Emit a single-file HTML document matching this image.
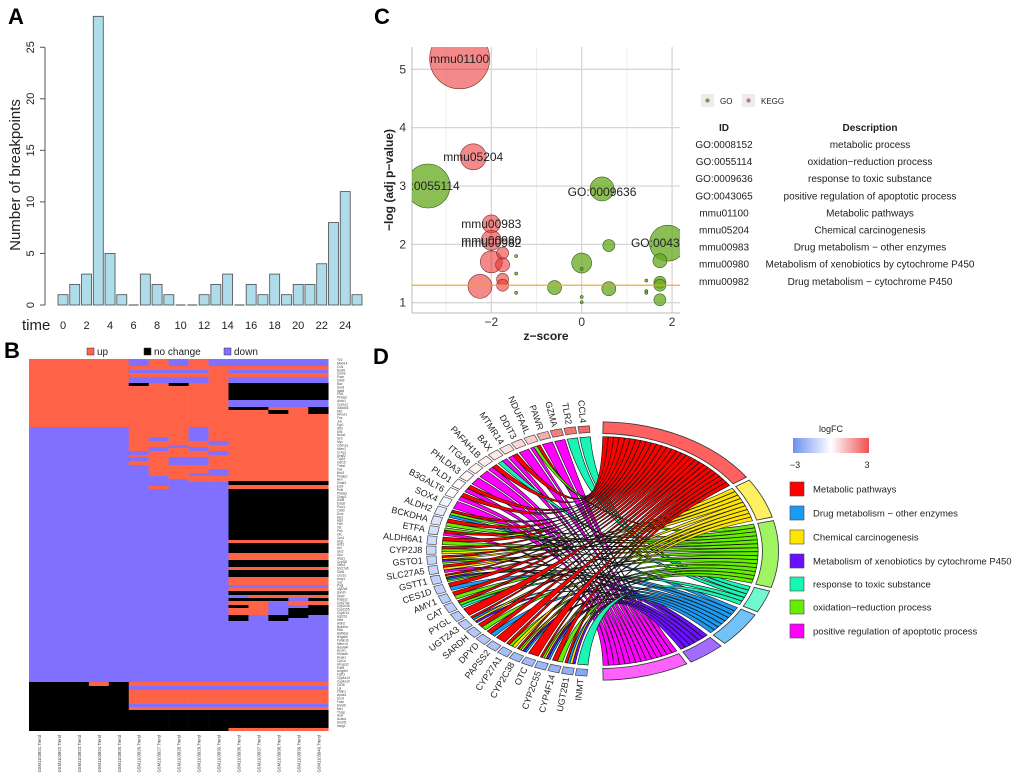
<!DOCTYPE html>
<html><head><meta charset="utf-8"><style>
html,body{margin:0;padding:0;background:#fff;}
svg{display:block;font-family:"Liberation Sans",Arial,sans-serif;}
</style></head><body>
<svg id="fig" width="1020" height="784" viewBox="0 0 1020 784" xmlns="http://www.w3.org/2000/svg">
<text x="8" y="24" font-size="22" font-weight="bold">A</text>
<text x="4" y="358" font-size="22" font-weight="bold">B</text>
<text x="374" y="24" font-size="22" font-weight="bold">C</text>
<text x="373" y="364" font-size="22" font-weight="bold">D</text>
<g id="pa"></g>
<g id="pb"></g>
<g id="pc"></g>
<g id="pd"></g>
</svg>
<script>
// ---------- Panel A data ----------
const timeCats = [0,1,2,3,4,5,6,7,8,9,10,11,12,13,14,15,16,17,18,19,20,21,22,23,24,25];
const breakpoints = [1,2,3,28,5,1,0,3,2,1,0,0,1,2,3,0,2,1,3,1,2,2,4,8,11,1];
const aTicks = [0,5,10,15,20,25];
const aXLabels = [0,2,4,6,8,10,12,14,16,18,20,22,24];

// ---------- Panel B data (runs of state up to row-offset) ----------
const hmSamples = ["GSM1103921.Trend","GSM1103922.Trend","GSM1103923.Trend","GSM1103924.Trend","GSM1103925.Trend","GSM1103926.Trend","GSM1103927.Trend","GSM1103928.Trend","GSM1103929.Trend","GSM1103930.Trend","GSM1103936.Trend","GSM1103937.Trend","GSM1103938.Trend","GSM1103939.Trend","GSM1103940.Trend"];
const bot5 = [["U",327],["D",331],["U",345],["D",348],["U",351],["B",372]];
const bot10 = [["U",327],["D",331],["U",345],["D",348],["U",351],["B",369],["U",372]];
const rMid = [["B",41],["D",48]];
const rLow = [["U",122],["B",126],["U",130],["B",181],["U",184],["B",194],["U",201],["B",208],["U",211],["B",218],["U",226],["D",229],["U",232],["B",236]];
const hmCols = [
 [["U",68],["D",323],["B",372]],
 [["U",68],["D",323],["B",372]],
 [["U",68],["D",323],["B",372]],
 [["U",68],["D",323],["U",327],["B",372]],
 [["U",68],["D",323],["B",372]],
 [["D",7],["U",11],["D",14],["U",18],["D",24],["B",27],["U",92],["D",96],["U",98],["D",102],["U",106],["D",323]].concat(bot5),
 [["U",11],["D",14],["U",18],["D",24],["U",78],["D",82],["U",88],["D",92],["U",117],["D",127],["U",130],["D",323]].concat(bot5),
 [["D",7],["U",11],["D",14],["U",18],["D",24],["B",27],["U",86],["D",89],["U",98],["D",106],["U",120],["D",323]].concat(bot5),
 [["U",11],["D",14],["U",18],["D",24],["U",68],["D",82],["U",88],["D",92],["U",98],["D",106],["U",114],["D",117],["U",123],["D",323]].concat(bot5),
 [["D",7],["U",82],["D",86],["U",92],["D",96],["U",110],["D",117],["U",123],["D",323]].concat(bot5),
 [["D",7],["U",11],["D",14],["U",18],["D",24]].concat(rMid,[["B",51],["U",55]],rLow,[["D",239],["B",242],["U",246],["B",249],["U",256],["B",262],["D",323]],bot10),
 [["D",7],["U",11],["D",14],["U",18],["D",24]].concat(rMid,[["B",51],["U",55]],rLow,[["U",239],["B",242],["U",256],["D",323]],bot10),
 [["D",7],["U",11],["D",14],["U",18],["D",24]].concat(rMid,[["U",51],["B",55]],rLow,[["U",239],["B",242],["D",256],["B",262],["D",323]],bot10),
 [["D",7],["U",11],["D",14],["U",18],["D",24]].concat(rMid,[["U",55]],rLow,[["U",239],["D",242],["U",246],["D",249],["B",259],["D",323]],bot10),
 [["D",7],["U",11],["D",14],["U",18],["D",24]].concat(rMid,[["B",55]],rLow,[["U",239],["B",242],["U",246],["B",256],["D",323]],bot10)
];
const hmGenes = ["Tlr2","Mbnl14","Ccl4","Nsdhl","Gzma","Pawr","Ddit3","Bax","Sox4","Itga8","Pld1","Phlda3","Abcb1","Cyp1a1","Gadd45","Mt2","Hmox1","Fos","Jun","Egr1","Atf3","Klf4","Nr4a1","Ier3","Myc","Cdkn1a","Mdm2","Ccng1","Sesn2","Trp53","Gdf15","Tnfrsf","Fas","Bbc3","Pmaip1","Aen","Zmat3","Ei24","Polk","Phlda3","Ckap2","Ddit4","Eda2r","Psrc1","Cd80","Dcxr","Hpd","Hgd","Fah","Tat","Pah","Otc","Cps1","Arg1","Ass1","Asl","Gls2","Glul","Alas1","Cyp2j8","Gsto1","Slc27a5","Gstt1","Ces1d","Amy1","Cat","Pygl","Ugt2a3","Sardh","Dpyd","Papss2","Cyp27a1","Cyp2c38","Cyp2c55","Cyp4f14","Ugt2b1","Inmt","Aldh2","Bckdha","Etfa","Aldh6a1","B3galt6","Pafah1b","Mtmr14","Ndufa4l","Acox1","Ehhadh","Acaa1","Cpt1a","Hmgcs2","Pdk4","Angptl4","Fgf21","Cyp4a14","Cyp4a10","Cd36","Lpl","Fabp1","Apoa4","Scd1","Fasn","Elovl6","Me1","Thrsp","Acly","Acaca","Srebf1","Insig1"];

// ---------- Panel C data ----------
const bubbleIds = ["mmu01100","mmu05204","GO:0055114","GO:0009636","GO:0043065","mmu00983","mmu00980","mmu00982","k1","k2","k3","k4","k5","g1","g2","g3","g4","g5","g6","g7","g8","d1","d2","d3","d4","d5","d6","d7","d8","d9"];
const bubbleZ = [-2.7,-2.4,-3.4,0.45,1.9,-2,-2,-2,-1.75,-1.75,-1.75,-1.75,-2.25,0.6,0,-0.6,0.6,1.73,1.73,1.73,1.73,-1.45,-1.45,-1.45,0,0,0,1.43,1.43,1.43];
const bubbleP = [5.18,3.5,3.0,2.95,2.02,2.35,2.07,1.7,1.85,1.65,1.4,1.3,1.28,1.98,1.68,1.26,1.24,1.72,1.35,1.3,1.05,1.8,1.5,1.17,1.58,1.1,1.01,1.38,1.2,1.17];
const bubbleSize = [30,13,22,12,18,9,10,11,6,7,6,6,12,6,10,7,7,7,6,6,6,1.5,1.5,1.5,1.5,1.5,1.5,1.5,1.5,1.5];
const bubbleType = ["K","K","G","G","G","K","K","K","K","K","K","K","K","G","G","G","G","G","G","G","G","G","G","G","G","G","G","G","G","G"];
const bubbleLabels = [["mmu01100",-2.7,5.18],["mmu05204",-2.4,3.5],["GO:0055114",-3.45,3.0],["GO:0009636",0.45,2.9],["GO:0043065",1.85,2.02],["mmu00983",-2,2.35],["mmu00980",-2,2.07],["mmu00982",-2,2.02]];
const cXTicks = [-2,0,2];
const cYTicks = [1,2,3,4,5];
const termIds = ["GO:0008152","GO:0055114","GO:0009636","GO:0043065","mmu01100","mmu05204","mmu00983","mmu00980","mmu00982"];
const termDesc = ["metabolic process","oxidation\u2212reduction process","response to toxic substance","positive regulation of apoptotic process","Metabolic pathways","Chemical carcinogenesis","Drug metabolism \u2212 other enzymes","Metabolism of xenobiotics by cytochrome P450","Drug metabolism \u2212 cytochrome P450"];

// ---------- Panel D data ----------
const chordGenes = ["CCL4","TLR2","GZMA","PAWR","NDUFA4L","DDIT3","MTMR14","BAX","PAFAH1B","ITGA8","PHLDA3","PLD1","B3GALT6","SOX4","ALDH2","BCKDHA","ETFA","ALDH6A1","CYP2J8","GSTO1","SLC27A5","GSTT1","CES1D","AMY1","CAT","PYGL","UGT2A3","SARDH","DPYD","PAPSS2","CYP27A1","CYP2C38","OTC","CYP2C55","CYP4F14","UGT2B1","INMT"];
const geneLogFC = [2.6,2.4,2.2,1.4,0.9,0.7,0.5,0.4,0.3,0.2,0.15,0.1,0,-0.2,-0.5,-0.7,-0.8,-0.9,-1,-1.1,-1.1,-1.2,-1.2,-1.3,-1.3,-1.4,-1.4,-1.5,-1.5,-1.6,-1.7,-1.8,-1.8,-1.9,-2,-2.1,-2.3];
// category order around arc (clockwise from top): 0 Metabolic,1 Chem carcinogenesis,2 oxidation-reduction,3 toxic,4 Drug other,5 xenobiotics,6 apoptotic
const geneTerms = [[3],[3],[6],[6],[0,2,6],[6],[0,6],[6,3],[0,6],[6],[6],[0,6],[0,6],[6],[0,2,4],[0,2],[2,0,6],[0,2],[0,2,1],[0,1,5,2],[0,1,6],[0,1,5,4,2],[0,4],[0,2],[0,2,3],[0],[0,4,1,5],[0,2],[0,4],[0],[0,2,1],[0,2,1,5,4],[0],[0,2,1,5,4],[0,2],[0,4,1,5],[3]];
const termNames = ["Metabolic pathways","Chemical carcinogenesis","oxidation\u2212reduction process","response to toxic substance","Drug metabolism \u2212 other enzymes","Metabolism of xenobiotics by cytochrome P450","positive regulation of apoptotic process"];
const termColors = ["#ff0000","#ffe600","#66ee00","#19f5b4","#1a9cf5","#6a10ff","#ff00ff"];
const legendOrder = [0,4,1,5,3,2,6];

const NS="http://www.w3.org/2000/svg";
function mk(parent, tag, attrs, text){const e=document.createElementNS(NS,tag);for(const k in attrs)e.setAttribute(k,attrs[k]);if(text!==undefined)e.textContent=text;parent.appendChild(e);return e;}

// ===== Panel A =====
(function(){
 const g=document.getElementById('pa');
 const x0=58, step=11.76, bw=10;
 const ay=v=>305-v*10.31;
 const ax=i=>x0+i*step;
 const axis=mk(g,'line',{x1:45,y1:ay(0),x2:45,y2:ay(25),stroke:'#555','stroke-width':1});
 
 
 aTicks.forEach(t=>{
  const tk=mk(g,'line',{x1:40,y1:ay(t),x2:45,y2:ay(t),stroke:'#555'});
  
  
  const lb=mk(g,'text',{x:34,y:ay(t),'font-size':11,fill:'#222','text-anchor':'middle',transform:`rotate(-90 34 ${ay(t)})`},String(t));
  
  
 });
 const yt=mk(g,'text',{x:20,y:175,'font-size':15,fill:'#222','text-anchor':'middle',transform:'rotate(-90 20 175)'},'Number of breakpoints');
 
 
 breakpoints.forEach((v,i)=>{
  if(v<=0){const z=mk(g,'line',{x1:ax(i),x2:ax(i)+bw,y1:ay(0),y2:ay(0),stroke:'#444'});return;}
  const r=mk(g,'rect',{x:ax(i),y:ay(v),width:bw,height:ay(0)-ay(v),fill:'#aedcea',stroke:'#4a4a4a','stroke-width':0.8});
  
  
 });
 const tl=mk(g,'text',{x:22,y:330,'font-size':15,fill:'#222'},'time');
 
 
 aXLabels.forEach(t=>{
  const i=timeCats.indexOf(t);
  const lb=mk(g,'text',{x:ax(i)+bw/2,y:329,'font-size':11,fill:'#222','text-anchor':'middle'},String(t));
  
  
 });
})();

// ===== Panel B =====
(function(){
 const g=document.getElementById('pb');
 const left=29, top=359, cw=19.95;
 const col={U:'#ff6347',D:'#8070ff',B:'#000000'};
 hmCols.forEach((runs,c)=>{
  let s=0;
  runs.forEach(([st,e])=>{
   const r=mk(g,'rect',{x:left+c*cw,y:top+s,width:cw+0.3,height:e-s,fill:col[st]});
   
   
   s=e;
  });
  const lx=left+c*cw+cw/2+2, ly=735;
  const t=mk(g,'text',{x:lx,y:ly,'font-size':4.2,fill:'#333','text-anchor':'end',transform:`rotate(-90 ${lx} ${ly})`},hmSamples[c]);
  
  
 });
 hmGenes.forEach((n,i)=>{
  const t=mk(g,'text',{x:337,y:top+2+i*3.42,'font-size':3.2,fill:'#444'},n);
  
  
 });
 const leg=[['U','up',87],['B','no change',144],['D','down',224]];
 leg.forEach(([k,l,x])=>{
  const b=mk(g,'rect',{x:x,y:348,width:7,height:7,fill:col[k],stroke:'#333','stroke-width':0.5});
  
  
  const t=mk(g,'text',{x:x+10,y:355,'font-size':10,fill:'#222'},l);
  
  
 });
})();

// ===== Panel C =====
(function(){
 const g=document.getElementById('pc');
 const cx=z=>581.7+z*45.2, cy=v=>302.7-(v-1)*58.35;
 const L=412,R=680,T=47,B=313;
 [-3,-1,1].forEach(z=>{const l=mk(g,'line',{x1:cx(z),x2:cx(z),y1:T,y2:B,stroke:'#ececec'});});
 cXTicks.forEach(z=>{const l=mk(g,'line',{x1:cx(z),x2:cx(z),y1:T,y2:B,stroke:'#d6d6d6','stroke-width':1.3});
  const t=mk(g,'text',{x:cx(z),y:326,'font-size':12,fill:'#333','text-anchor':'middle'},z<0?'\u2212'+(-z):String(z));});
 cYTicks.forEach(v=>{const l=mk(g,'line',{x1:L,x2:R,y1:cy(v),y2:cy(v),stroke:'#d6d6d6','stroke-width':1.3});
  const t=mk(g,'text',{x:406,y:cy(v)+4,'font-size':12,fill:'#333','text-anchor':'end'},String(v));});
 const ax1=mk(g,'polyline',{points:`${L},${T} ${L},${B} ${R},${B}`,fill:'none',stroke:'#bbb'});
 
 
 const cp=mk(g,'clipPath',{id:'cclip'});mk(cp,'rect',{x:L,y:T,width:R-L,height:B-T});
 const pg=mk(g,'g',{'clip-path':'url(#cclip)'});
 bubbleIds.forEach((id,i)=>{
  const c=mk(pg,'circle',{cx:cx(bubbleZ[i]),cy:cy(bubbleP[i]),r:bubbleSize[i],fill:bubbleType[i]==='K'?'rgba(235,40,40,0.55)':'rgba(100,170,30,0.75)',stroke:bubbleType[i]==='K'?'#7a3030':'#3a5a20','stroke-width':0.6});
  
  
 });
 const th=mk(pg,'line',{x1:L,x2:R,y1:cy(1.3),y2:cy(1.3),stroke:'#f5a020','stroke-width':1.2});
 
 
 bubbleLabels.forEach(([s,z,v])=>{
  const t=mk(pg,'text',{x:cx(z),y:cy(v)+4,'font-size':12,fill:'#222','text-anchor':'middle'},s);
  
  
 });
 const xt=mk(g,'text',{x:546,y:340,'font-size':12,'font-weight':'bold',fill:'#222','text-anchor':'middle'},'z\u2212score');
 
 const yt=mk(g,'text',{x:393,y:180,'font-size':12,'font-weight':'bold',fill:'#222','text-anchor':'middle',transform:'rotate(-90 393 180)'},'\u2212log (adj p\u2212value)');
 
 [['GO','rgba(100,170,30,0.9)',701],['KEGG','rgba(235,60,60,0.7)',742]].forEach(([n,c,x])=>{
  const b=mk(g,'rect',{x:x,y:94,width:13,height:13,fill:'#ececec'});
  mk(g,'circle',{cx:x+6.5,cy:100.5,r:1.8,fill:c,stroke:'#555','stroke-width':0.4});
  const t=mk(g,'text',{x:x+19,y:104,'font-size':8,fill:'#222'},n);
 });
 const h1=mk(g,'text',{x:724,y:131,'font-size':10,'font-weight':'bold','text-anchor':'middle',fill:'#222'},'ID');
 const h2=mk(g,'text',{x:870,y:131,'font-size':10,'font-weight':'bold','text-anchor':'middle',fill:'#222'},'Description');
 termIds.forEach((id,i)=>{
  const y=148+i*17.1;
  const a=mk(g,'text',{x:724,y:y,'font-size':10,'text-anchor':'middle',fill:'#222'},id);
  const b=mk(g,'text',{x:870,y:y,'font-size':10,'text-anchor':'middle',fill:'#222'},termDesc[i]);
 });
})();

// ===== Panel D =====
(function(){
 const g=document.getElementById('pd');
 const CX=600, CY=551, RX=170, RY=123;
 const P=(t,s)=>[CX+RX*s*Math.cos(t*Math.PI/180), CY+RY*s*Math.sin(t*Math.PI/180)];
 const arcPath=(a1,a2,s1,s2)=>{
  const p1=P(a1,s2),p2=P(a2,s2),p3=P(a2,s1),p4=P(a1,s1);
  const lg=Math.abs(a2-a1)>180?1:0, sw=a2>a1?1:0;
  return `M${p1} A${RX*s2},${RY*s2} 0 ${lg} ${sw} ${p2} L${p3} A${RX*s1},${RY*s1} 0 ${lg} ${1-sw} ${p4} Z`;
 };
 // gene slots: t from 266 down to 94
 const gN=chordGenes.length, gStart=266.5, gEnd=93.5, gStep=(gStart-gEnd)/gN;
 // term counts
 const counts=termNames.map(()=>0);
 geneTerms.forEach(ts=>ts.forEach(k=>counts[k]++));
 const total=counts.reduce((a,b)=>a+b,0);
 const gap=1.6, span=178-gap*(termNames.length-1);
 const tStart=[];let acc=-89;
 counts.forEach((c,k)=>{tStart.push(acc);acc+=c/total*span+gap;});
 const tUsed=counts.map(()=>0);
 const linkW=span/total;
 const S=0.93;
 const colScale=v=>{const f=Math.max(-1,Math.min(1,v/3));
  const lerp=(a,b,u)=>Math.round(a+(b-a)*u);
  if(f<0){const u=-f;return `rgb(${lerp(255,100,u)},${lerp(255,140,u)},${lerp(255,240,u)})`;}
  return `rgb(${lerp(255,240,f)},${lerp(255,80,f)},${lerp(255,80,f)})`;};
 const ribbons=mk(g,'g',{});
 chordGenes.forEach((name,i)=>{
  const a0=gStart-i*gStep, a1=a0-gStep*0.82;
  const ts=geneTerms[i], sub=(a0-a1)/ts.length;
  ts.forEach((k,j)=>{
   const ga=a0-j*sub, gb=ga-sub;
   const ca=tStart[k]+tUsed[k]*linkW, cb=ca+linkW*0.95; tUsed[k]++;
   const p1=P(ga,S),p2=P(gb,S),p3=P(ca,S),p4=P(cb,S);
   const d=`M${p1} A${RX*S},${RY*S} 0 0 1 ${p2} Q${CX},${CY} ${p3} A${RX*S},${RY*S} 0 0 1 ${p4} Q${CX},${CY} ${p1} Z`;
   const r=mk(ribbons,'path',{d:d,fill:termColors[k],stroke:'#111','stroke-width':0.6});
   
   
  });
  const b=mk(g,'path',{d:arcPath(a1,a0,0.965,1.02),fill:colScale(geneLogFC[i]),stroke:'#333','stroke-width':0.6});
  
  
  const am=(a0+a1)/2, lp=P(am,1.045);
  const rot=am+180;
  const t=mk(g,'text',{x:lp[0],y:lp[1]+3,'font-size':9,fill:'#222','text-anchor':'end',transform:`rotate(${rot} ${lp[0]} ${lp[1]})`},name);
  
  
 });
 const lighter=c=>c;
 termNames.forEach((n,k)=>{
  const a=tStart[k], b=a+counts[k]*linkW;
  const p=mk(g,'path',{d:arcPath(a,b,0.955,1.05),fill:termColors[k],'fill-opacity':0.62,stroke:'#333','stroke-width':0.8});
  
  
 });
 // legend
 const defs=mk(g,'defs',{});
 const lg=mk(defs,'linearGradient',{id:'fcg',x1:0,x2:1,y1:0,y2:0});
 mk(lg,'stop',{offset:0,'stop-color':'#6f90f0'});mk(lg,'stop',{offset:0.5,'stop-color':'#ffffff'});mk(lg,'stop',{offset:1,'stop-color':'#f05050'});
 const lt=mk(g,'text',{x:831,y:432,'font-size':9,'text-anchor':'middle',fill:'#222'},'logFC');
 const cb=mk(g,'rect',{x:793,y:438,width:76,height:15,fill:'url(#fcg)'});
 const m3=mk(g,'text',{x:795,y:468,'font-size':9,'text-anchor':'middle',fill:'#222'},'\u22123');
 const p3=mk(g,'text',{x:867,y:468,'font-size':9,'text-anchor':'middle',fill:'#222'},'3');
 const ly=[489,513,537,561,584,607,631];
 legendOrder.forEach((k,i)=>{
  const s=mk(g,'rect',{x:790,y:ly[i]-7,width:14,height:14,fill:termColors[k],stroke:'#444','stroke-width':0.6});
  
  
  const t=mk(g,'text',{x:813,y:ly[i]+3.5,'font-size':9.5,fill:'#222'},termNames[k]);
  
  
 });
})();
</script>
</body></html>
